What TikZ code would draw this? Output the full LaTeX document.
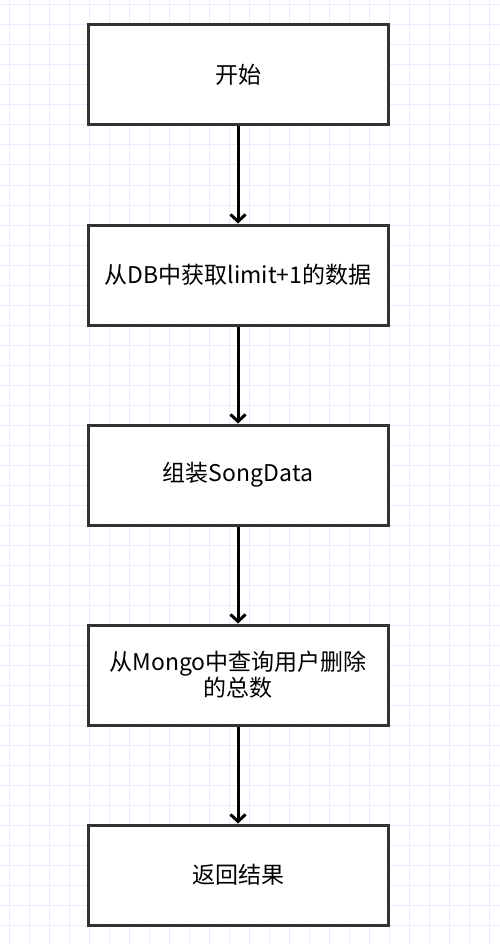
\documentclass[tikz,border=0pt]{standalone}
\usepackage{fontspec}
\setmainfont{Noto Sans CJK SC}
\usetikzlibrary{arrows.meta}

\begin{document}
\begin{tikzpicture}[x = 1pt, y = -1pt,
                        gridline/.style = {draw = blue!8, line width = 1pt},
                        box/.style = {rectangle, draw = black!80, fill = white, line width = 3pt,
                                      minimum width = 300pt, minimum height = 100pt, align = center,
                                      font = \fontsize{23}{26}\selectfont},
                        link/.style = {draw = black, line width = 3pt, -{Straight Barb[length = 7pt, width = 15pt, line width = 3pt]}}]
      \useasboundingbox (0, 0) rectangle (500, 944);
      \fill[white] (0, 0) rectangle (500, 944);
      \foreach \x in {9, 29, ..., 489}
        \draw[gridline] (\x, 0) -- (\x, 944);
      \foreach \y in {5, 25, ..., 925}
        \draw[gridline] (0, \y) -- (500, \y);
      \node [box] (b1) at (238, 75){开始};
      \node [box] (b2) at (238, 275){从DB中获取limit+1的数据};
      \node [box] (b3) at (238, 475){组装SongData};
      \node [box] (b4) at (238, 675){从Mongo中查询用户删除\\的总数};
      \node [box] (b5) at (238, 875){返回结果};
      \draw[link] (b1) -- (b2);
      \draw[link] (b2) -- (b3);
      \draw[link] (b3) -- (b4);
      \draw[link] (b4) -- (b5);
    \end{tikzpicture}
\end{document}
